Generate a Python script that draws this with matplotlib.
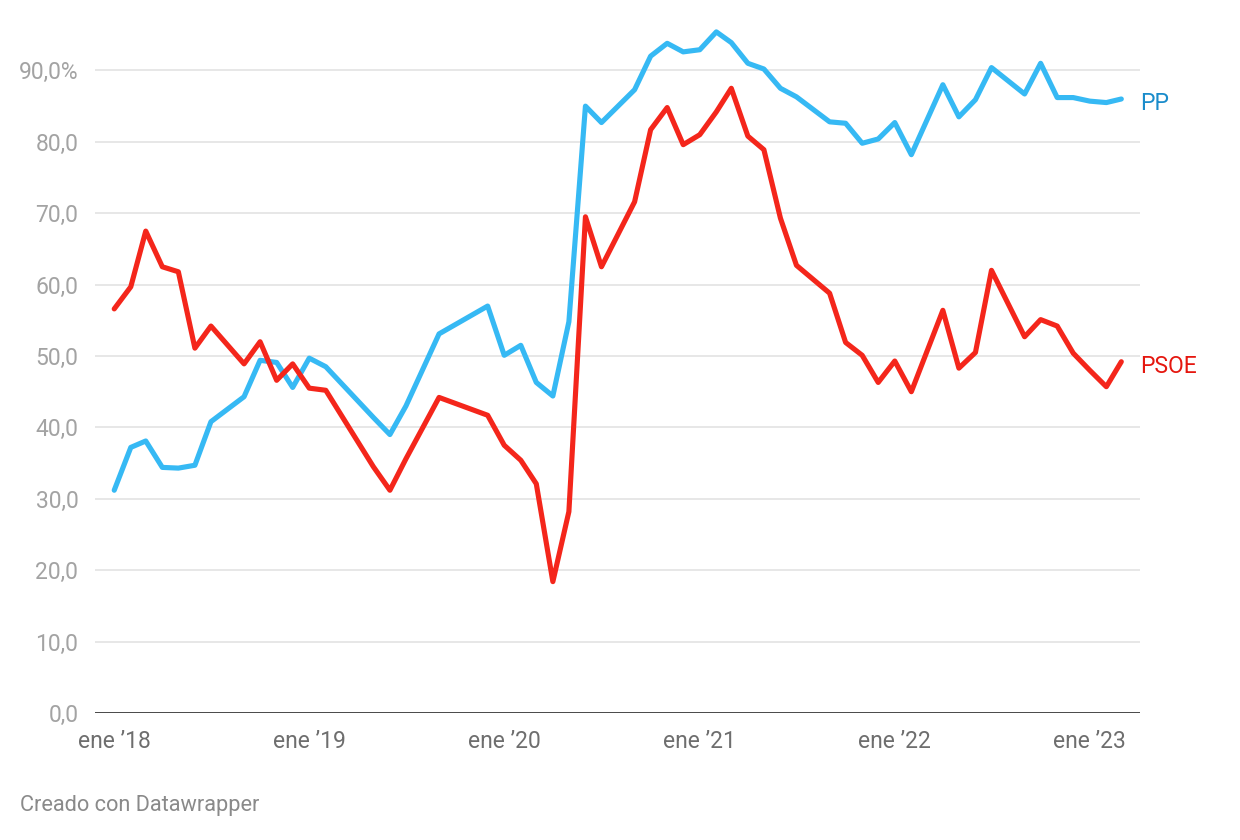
import matplotlib
matplotlib.use("Agg")
import matplotlib.pyplot as plt
import matplotlib.dates as mdates
import pandas as pd

plt.rcParams['font.family'] = ['Roboto', 'DejaVu Sans']

months = [
    "2018-01", "2018-02", "2018-03", "2018-04", "2018-05", "2018-06", "2018-07", "2018-09", "2018-10", "2018-11", "2018-12",
    "2019-01", "2019-02", "2019-05", "2019-06", "2019-07", "2019-09", "2019-12",
    "2020-01", "2020-02", "2020-03", "2020-04", "2020-05", "2020-06", "2020-07", "2020-09", "2020-10", "2020-11", "2020-12",
    "2021-01", "2021-02", "2021-03", "2021-04", "2021-05", "2021-06", "2021-07", "2021-09", "2021-10", "2021-11", "2021-12",
    "2022-01", "2022-02", "2022-04", "2022-05", "2022-06", "2022-07", "2022-09", "2022-10", "2022-11", "2022-12",
    "2023-01", "2023-02", "2023-03",
]

pp = [
    31.2, 37.2, 38.1, 34.4, 34.3, 34.7, 40.8, 44.3, 49.4, 49.1, 45.6,
    49.7, 48.5, 41.4, 39.0, 43.0, 53.1, 57.0,
    50.1, 51.5, 46.3, 44.4, 54.8, 85.0, 82.7, 87.3, 92.0, 93.8, 92.6,
    92.9, 95.4, 93.9, 91.0, 90.2, 87.5, 86.3, 82.8, 82.6, 79.8, 80.4,
    82.7, 78.2, 88.0, 83.5, 85.9, 90.4, 86.7, 91.0, 86.2, 86.2,
    85.7, 85.5, 86.0,
]

psoe = [
    56.6, 59.7, 67.5, 62.5, 61.8, 51.1, 54.2, 48.9, 52.0, 46.6, 48.9,
    45.5, 45.2, 34.5, 31.2, 35.6, 44.2, 41.7,
    37.5, 35.4, 32.1, 18.4, 28.2, 69.5, 62.5, 71.6, 81.7, 84.8, 79.6,
    81.0, 84.2, 87.5, 80.8, 78.9, 69.3, 62.7, 58.8, 51.9, 50.1, 46.3,
    49.3, 45.0, 56.4, 48.3, 50.5, 62.0, 52.7, 55.1, 54.2, 50.4,
    48.0, 45.7, 49.2,
]

series_names = ["PP", "PSOE"]
yticks = [0, 10, 20, 30, 40, 50, 60, 70, 80, 90]
ytick_labels = ["0,0", "10,0", "20,0", "30,0", "40,0", "50,0", "60,0", "70,0", "80,0", "90,0%"]
xtick_dates = ["2018-01-01", "2019-01-01", "2020-01-01", "2021-01-01", "2022-01-01", "2023-01-01"]
xtick_labels = ["ene \u201918", "ene \u201919", "ene \u201920", "ene \u201921", "ene \u201922", "ene \u201923"]

dates = pd.to_datetime([m + "-01" for m in months])

W, H = 1240, 840
fig = plt.figure(figsize=(W / 100, H / 100), dpi=100)
ax_left, ax_right = 95, 1140
ax_bottom_px, ax_top_px = 713, 27.6
ax = fig.add_axes([ax_left / W, 1 - ax_bottom_px / H, (ax_right - ax_left) / W, (ax_bottom_px - ax_top_px) / H])

blue = "#36b9f4"
red = "#f4261b"
ax.plot(dates, pp, color=blue, lw=3.7, solid_capstyle="round", solid_joinstyle="round", zorder=3)
ax.plot(dates, psoe, color=red, lw=3.7, solid_capstyle="round", solid_joinstyle="round", zorder=3)

ax.set_ylim(0, 96)
ax.set_xlim(pd.Timestamp("2017-11-26"), pd.Timestamp("2023-04-05"))

for s in ax.spines.values():
    s.set_visible(False)
ax.set_yticks(yticks)
ax.set_yticklabels(ytick_labels)
ax.grid(axis="y", color="#e3e3e3", lw=1.2, zorder=0)
ax.axhline(0, color="#1a1a1a", lw=1.8, zorder=4)
ax.tick_params(axis="y", length=0, pad=12, labelsize=16.5, labelcolor="#a3a3a3")
ax.set_xticks(pd.to_datetime(xtick_dates))
ax.set_xticklabels(xtick_labels)
ax.tick_params(axis="x", length=0, pad=12, labelsize=16.5, labelcolor="#6e6e6e")

ax.annotate(series_names[0], (dates[-1], pp[-1]), xytext=(13.5, -3.4), textcoords="offset points",
            color="#1a8ccb", fontsize=16.5, va="center", ha="left", annotation_clip=False)
ax.annotate(series_names[1], (dates[-1], psoe[-1]), xytext=(13.5, -3.4), textcoords="offset points",
            color="#e5170f", fontsize=16.5, va="center", ha="left", annotation_clip=False)

fig.text(20 / W, 1 - 806 / H, "Creado con Datawrapper", color="#8a8a8a", fontsize=15.7, va="center", ha="left")

fig.savefig("out.png", dpi=100)
